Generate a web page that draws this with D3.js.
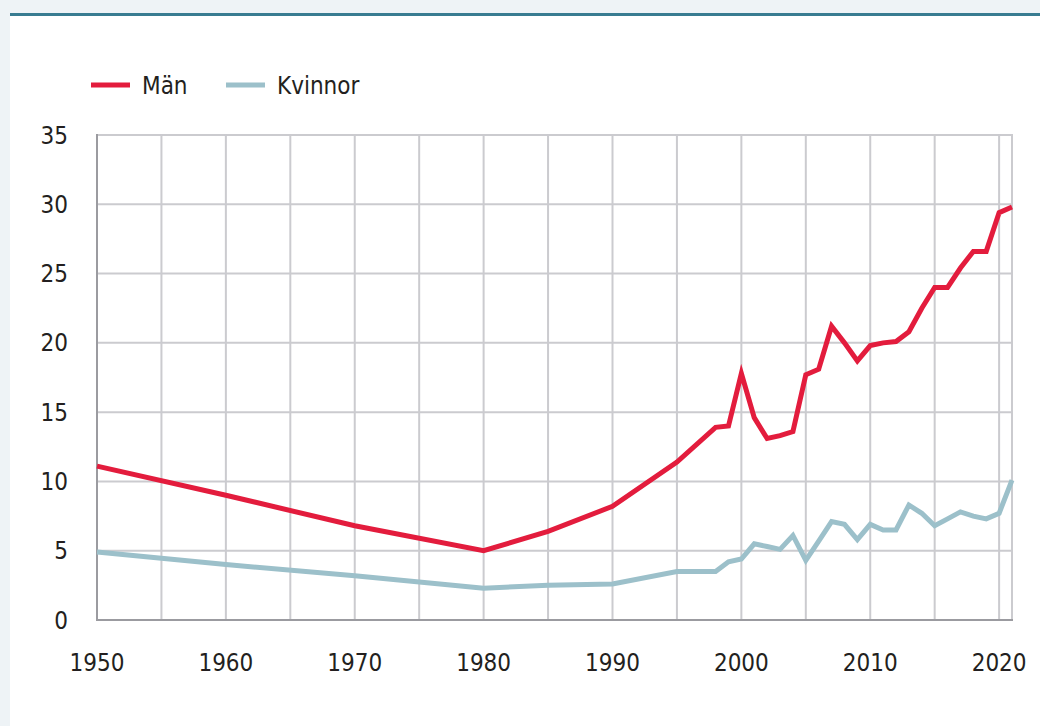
<!DOCTYPE html>
<html>
<head>
<meta charset="utf-8">
<script src="https://cdn.jsdelivr.net/npm/d3@7"></script>
<style>
  html, body { margin: 0; padding: 0; background: #eef3f6; }
  svg { display: block; }
  text { font-family: "DejaVu Sans Condensed", "Liberation Sans Narrow", sans-serif; fill: #231f20; }
</style>
</head>
<body>
<svg id="chart" width="1040" height="726"></svg>
<script>
const years = [1950,1960,1970,1980,1985,1990,1995,1998,1999,2000,2001,2002,2003,2004,2005,2006,2007,2008,2009,2010,2011,2012,2013,2014,2015,2016,2017,2018,2019,2020,2021];
const man = [11.1,9.0,6.8,5.0,6.4,8.2,11.4,13.9,14.0,17.8,14.6,13.1,13.3,13.6,17.7,18.1,21.2,20.0,18.7,19.8,20.0,20.1,20.8,22.5,24.0,24.0,25.4,26.6,26.6,29.4,29.8];
const kvinnor = [4.9,4.0,3.2,2.3,2.5,2.6,3.5,3.5,4.2,4.4,5.5,5.3,5.1,6.1,4.3,5.7,7.1,6.9,5.8,6.9,6.5,6.5,8.3,7.7,6.8,7.3,7.8,7.5,7.3,7.7,10.1];
const seriesNames = ["Män","Kvinnor"];
const seriesColors = ["#e31c3d","#9cc0ca"];
const yTicks = [0,5,10,15,20,25,30,35];
const xLabelTicks = [1950,1960,1970,1980,1990,2000,2010,2020];
const xGridTicks = [1955,1960,1965,1970,1975,1980,1985,1990,1995,2000,2005,2010,2015,2020,2021];

const svg = d3.select("#chart");
svg.append("rect").attr("x",10).attr("y",15).attr("width",1030).attr("height",711).attr("fill","#ffffff");
svg.append("rect").attr("x",10).attr("y",13).attr("width",1030).attr("height",3).attr("fill","#387c91");

const x = d3.scaleLinear().domain([1950,2021]).range([97,1012]);
const y = d3.scaleLinear().domain([0,35]).range([620,135]);

const grid = svg.append("g");
grid.selectAll("line.h").data(yTicks.filter(d=>d>0)).join("line")
  .attr("x1",97).attr("x2",1012).attr("y1",d=>y(d)).attr("y2",d=>y(d))
  .attr("stroke","#cbcbcf").attr("stroke-width",2);
grid.selectAll("line.v").data(xGridTicks).join("line")
  .attr("y1",y(0)).attr("y2",y(35)-1).attr("x1",d=>x(d)).attr("x2",d=>x(d))
  .attr("stroke","#cbcbcf").attr("stroke-width",2);
svg.append("line").attr("x1",x(1950)).attr("x2",x(1950)).attr("y1",y(35)-1).attr("y2",y(0)+1)
  .attr("stroke","#9b9ba0").attr("stroke-width",2);
svg.append("line").attr("x1",x(1950)-1).attr("x2",x(2021)+1).attr("y1",y(0)).attr("y2",y(0))
  .attr("stroke","#9b9ba0").attr("stroke-width",2);

svg.selectAll("text.yl").data(yTicks).join("text").attr("class","yl")
  .attr("x",68).attr("y",d=>y(d)).attr("dy","0.36em").attr("text-anchor","end")
  .attr("font-size",24).text(d=>d);
svg.selectAll("text.xl").data(xLabelTicks).join("text").attr("class","xl")
  .attr("x",d=>x(d)).attr("y",671).attr("text-anchor","middle")
  .attr("font-size",24).text(d=>d);

const line = d3.line().x(d=>x(d[0])).y(d=>y(d[1]));
[man,kvinnor].forEach((vals,i)=>{
  svg.append("path").datum(years.map((yr,j)=>[yr,vals[j]]))
    .attr("d",line).attr("fill","none").attr("stroke",seriesColors[i])
    .attr("stroke-width",5).attr("stroke-linejoin","miter").attr("stroke-miterlimit",4);
});

const legX = [91,226];
seriesNames.forEach((n,i)=>{
  svg.append("line").attr("x1",legX[i]).attr("x2",legX[i]+39).attr("y1",85).attr("y2",85)
    .attr("stroke",seriesColors[i]).attr("stroke-width",5);
  svg.append("text").attr("x",legX[i]+51).attr("y",94).attr("font-size",24).text(n);
});
</script>
</body>
</html>
